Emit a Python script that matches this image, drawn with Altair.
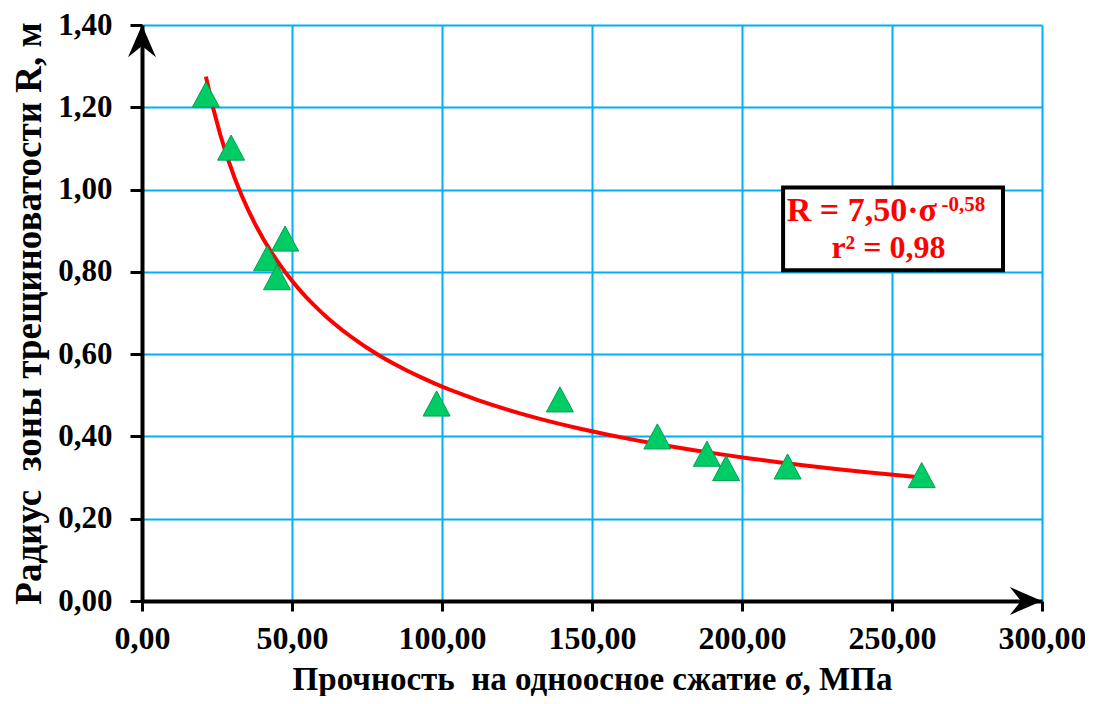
import altair as alt
import pandas as pd

# ---- data ----
sigma = [21.3, 29.7, 41.7, 45.0, 47.7, 98.2, 139.3, 171.8, 188.3, 194.7, 215.2, 259.9]
radius = [1.231, 1.102, 0.833, 0.787, 0.881, 0.480, 0.490, 0.400, 0.358, 0.323, 0.327, 0.306]
x_ticks = [0, 50, 100, 150, 200, 250, 300]
y_ticks = [0.0, 0.2, 0.4, 0.6, 0.8, 1.0, 1.2, 1.4]
x_domain = [0, 300]
y_domain = [0, 1.4]
eq_main = "R = 7,50·σ"
eq_exp = "-0,58"
eq_r2 = "r² = 0,98"
x_title = "Прочность\u00a0 на одноосное сжатие σ, МПа"
y_title = "Радиус\u00a0 зоны трещиноватости R, м"

pts = pd.DataFrame({"sigma": sigma, "R": radius})

FONT = "Liberation Serif"
GRID = "#00B0F0"
lab = "replace(format(datum.value, '.2f'), '.', ',')"

xaxis = alt.Axis(values=x_ticks, labelExpr=lab, title=x_title, grid=True,
                 gridColor=GRID, gridWidth=2, gridOpacity=1,
                 domainColor="black", domainWidth=4, tickColor="black",
                 tickSize=10, tickWidth=3, labelFont=FONT, labelFontSize=32,
                 labelFontWeight="bold", labelColor="black", labelPadding=12,
                 labelFlush=False, labelOverlap=False,
                 titleFont=FONT, titleFontSize=33, titleFontWeight="bold",
                 titleColor="black", titlePadding=9)
yaxis = alt.Axis(values=y_ticks, labelExpr=lab, title=y_title, grid=True,
                 gridColor=GRID, gridWidth=2, gridOpacity=1,
                 domainColor="black", domainWidth=4, tickColor="black",
                 tickSize=12, tickWidth=3, labelFont=FONT, labelFontSize=31,
                 labelFontWeight="bold", labelColor="black", labelPadding=18,
                 labelFlush=False, labelOverlap=False,
                 titleFont=FONT, titleFontSize=37, titleFontWeight="bold",
                 titleColor="black", titlePadding=9)

xs = alt.Scale(domain=x_domain, nice=False, zero=False)
ys = alt.Scale(domain=y_domain, nice=False, zero=False)


def X(f):
    return alt.X(f, type="quantitative", scale=xs, axis=xaxis)


def Y(f):
    return alt.Y(f, type="quantitative", scale=ys, axis=yaxis)


base = alt.Chart(pts)

curve = base.transform_regression("sigma", "R", method="pow").mark_line(
    color="#FF0000", strokeWidth=4).encode(x=X("sigma"), y=Y("R"))

tri = "M-1,0.93L0,-0.93L1,0.93Z"
points = base.mark_point(shape=tri, size=729, filled=True, fill="#00CC66",
                         stroke="#00A050", strokeWidth=1, opacity=1).encode(
    x=X("sigma"), y=Y("R"))

# axis arrow heads at the ends of the axes
up_df = pd.DataFrame({"sigma": [x_domain[0]], "R": [y_domain[1]]})
right_df = pd.DataFrame({"sigma": [x_domain[1]], "R": [y_domain[0]]})
up_path = "M0,0L1,2.3L0,1.5L-1,2.3Z"
right_path = "M0,0L-2.3,1L-1.5,0L-2.3,-1Z"
arrow_up = alt.Chart(up_df).mark_point(shape=up_path, size=784, filled=True,
                                       color="black", opacity=1).encode(
    x=X("sigma"), y=Y("R"))
arrow_right = alt.Chart(right_df).mark_point(shape=right_path, size=784,
                                             filled=True, color="black",
                                             opacity=1).encode(
    x=X("sigma"), y=Y("R"))

# equation box
box_df = pd.DataFrame({"sigma": [213.7], "s2": [287.0], "R": [1.005], "R2": [0.804]})
box = alt.Chart(box_df).mark_rect(fill="white", stroke="black", strokeWidth=4).encode(
    x=X("sigma"), x2="s2", y=Y("R"), y2="R2")

t1_df = pd.DataFrame({"sigma": [265.0], "R": [0.9225], "t": [eq_main]})
t2_df = pd.DataFrame({"sigma": [266.5], "R": [0.947], "t": [eq_exp]})
t3_df = pd.DataFrame({"sigma": [248.8], "R": [0.833], "t": [eq_r2]})
t1 = alt.Chart(t1_df).mark_text(align="right", baseline="alphabetic", font=FONT,
                                fontSize=34, fontWeight="bold", color="#FF0000").encode(
    x=X("sigma"), y=Y("R"), text="t")
t2 = alt.Chart(t2_df).mark_text(align="left", baseline="alphabetic", font=FONT,
                                fontSize=21, fontWeight="bold", color="#FF0000").encode(
    x=X("sigma"), y=Y("R"), text="t")
t3 = alt.Chart(t3_df).mark_text(align="center", baseline="alphabetic", font=FONT,
                                fontSize=32, fontWeight="bold", color="#FF0000").encode(
    x=X("sigma"), y=Y("R"), text="t")

chart = alt.layer(curve, points, arrow_up, arrow_right, box, t1, t2, t3).properties(
    width=900, height=576,
    padding={"left": 134, "top": 17, "right": 43, "bottom": 95},
    autosize=alt.AutoSizeParams(type="none"),
    background="white",
).configure_view(stroke=None)

chart.save("out.html", embed_options={"renderer": "svg", "actions": False})
